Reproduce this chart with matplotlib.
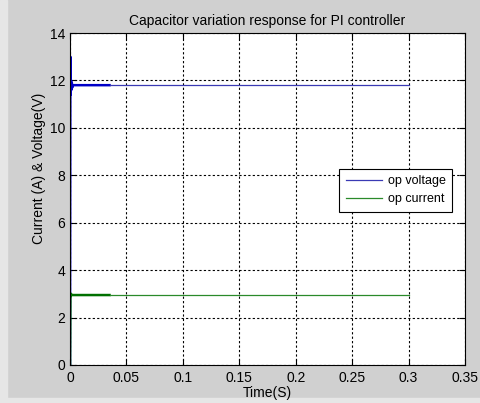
import matplotlib.pyplot as plt
import numpy as np

plt.rcParams['font.family'] = ['Liberation Sans', 'DejaVu Sans']

# start-up transient (dense sampling, looks thicker) and steady part
t_start = [0, 0.0003, 0.0006, 0.0009, 0.0012, 0.0016, 0.002, 0.0025, 0.003, 0.035]
v_start = [0, 13.0, 11.4, 12.0, 11.6, 11.9, 11.7, 11.8, 11.8, 11.8]
i_start = [0, 3.0, 2.9, 3.0, 2.95, 2.95, 2.95, 2.95, 2.95, 2.95]

t_rest = [0.035, 0.1, 0.2, 0.3]
v_rest = [11.8, 11.8, 11.8, 11.8]
i_rest = [2.95, 2.95, 2.95, 2.95]

bg = '#d0d0d0'
fig = plt.figure(figsize=(4.8, 4.03), dpi=100, facecolor=bg)
# lighter strips at left and bottom edge of the screenshot
fig.add_artist(plt.Rectangle((0, 0), 7 / 480, 1, transform=fig.transFigure,
                             color='#e6e6e6', zorder=0))
fig.add_artist(plt.Rectangle((0, 0), 1, 5 / 403, transform=fig.transFigure,
                             color='#e6e6e6', zorder=0))

ax = fig.add_axes([70 / 480, 1 - 365 / 403, 395 / 480, 332 / 403])

ax.plot(t_start, v_start, color='#0000c8', lw=1.8)
ax.plot(t_rest, v_rest, color='#3a3ab4', lw=0.9, label='op voltage')
ax.plot(t_start, i_start, color='#007000', lw=1.8)
ax.plot(t_rest, i_rest, color='#2a8a2a', lw=0.9, label='op current')

ax.set_xlim(0, 0.35)
ax.set_ylim(0, 14)
ax.set_xticks(np.arange(0, 0.351, 0.05))
ax.set_xticklabels(['0', '0.05', '0.1', '0.15', '0.2', '0.25', '0.3', '0.35'])
ax.set_yticks(range(0, 15, 2))
ax.tick_params(labelsize=10, direction='in', length=4, top=True, right=True)
ax.tick_params(axis='x', pad=4)
ax.grid(True, color='black', linestyle=(0, (2, 2)), linewidth=0.8)

ax.set_title('Capacitor variation response for PI controller', fontsize=10, pad=6)
ax.set_xlabel('Time(S)', fontsize=10, labelpad=1)
ax.set_ylabel('Current (A) & Voltage(V)', fontsize=10)
ax.yaxis.set_label_coords(-0.06, 0.593)

leg = ax.legend(loc='center left', bbox_to_anchor=(0.666, 0.526), fontsize=9,
                fancybox=False, framealpha=1, edgecolor='black', handlelength=2.9,
                handletextpad=0.5, borderpad=0.5, labelspacing=0.5)
leg.get_frame().set_linewidth(0.8)

fig.savefig('out.png', dpi=100, facecolor=bg)
